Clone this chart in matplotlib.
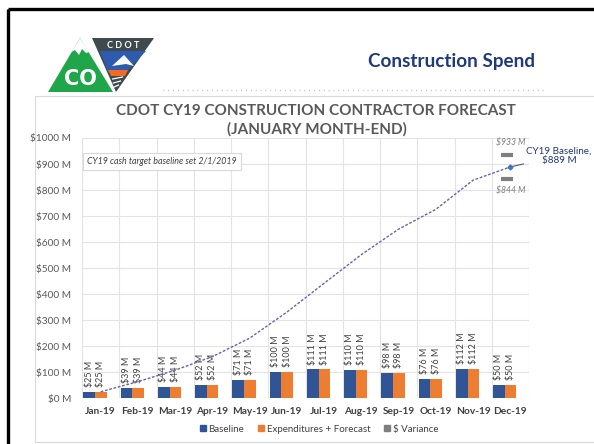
import numpy as np
import matplotlib
matplotlib.use("Agg")
import matplotlib.pyplot as plt
from matplotlib.patches import Polygon, Rectangle
from matplotlib.lines import Line2D

plt.rcParams['font.family'] = ['Lato', 'DejaVu Sans']

# data
months = ['Jan-19', 'Feb-19', 'Mar-19', 'Apr-19', 'May-19', 'Jun-19',
          'Jul-19', 'Aug-19', 'Sep-19', 'Oct-19', 'Nov-19', 'Dec-19']
baseline = [25, 39, 44, 52, 71, 100, 111, 110, 98, 76, 112, 50]
expend = [25, 39, 44, 52, 71, 100, 111, 110, 98, 76, 112, 50]
cum_baseline = [25, 64, 108, 160, 231, 331, 442, 552, 650, 726, 838, 889]
var_hi = 933
var_lo = 844
yticks = [0, 100, 200, 300, 400, 500, 600, 700, 800, 900, 1000]

BLUE = '#2F5597'
ORANGE = '#ED7D31'
GRAY = '#7F7F7F'
NAVY = '#1F3A7A'
TXT = '#404040'

W, H = 594, 444
fig = plt.figure(figsize=(W / 100, H / 100), dpi=100)

# background layer in pixel coords
bg = fig.add_axes([0, 0, 1, 1], zorder=0)
bg.set_xlim(0, W)
bg.set_ylim(H, 0)
bg.axis('off')

# slide border
bg.plot([7.5, W], [9, 9], color='black', lw=2.4, solid_capstyle='butt')
bg.plot([7.5, 7.5], [9, H], color='black', lw=2.4, solid_capstyle='butt')

# logo
bg.add_patch(Polygon([(48, 92), (113, 92), (80, 38)], closed=True, fc='#1FA64A', ec='none'))
bg.add_patch(Polygon([(80, 38), (71.5, 52), (75, 50), (79, 55), (82, 49), (86, 53), (89, 52)],
                     closed=True, fc='white', ec='none'))
bg.text(80, 79, 'CO', color='white', fontsize=15, fontweight='heavy', ha='center', va='center',
        family=['DejaVu Sans'])
bg.add_patch(Polygon([(92, 38), (154, 38), (116, 92)], closed=True, fc='#3E4A4E', ec='none'))
bg.add_patch(Polygon([(100, 51), (146, 51), (126, 72), (108, 72)], closed=True, fc='#2D5CAE', ec='none'))
bg.add_patch(Polygon([(112, 66), (124, 55), (134, 66), (126, 64)], closed=True, fc='white', ec='none'))
bg.add_patch(Polygon([(108, 70), (128, 70), (125, 76), (111, 76)], closed=True, fc='#F26B21', ec='none'))
for yy in [79, 83, 87]:
    bg.plot([112 + (yy - 76) * 0.2, 124 - (yy - 76) * 0.5], [yy, yy - 2], color='white', lw=0.9)
bg.text(123, 45, 'C D O T', color='white', fontsize=6.5, fontweight='bold', ha='center', va='center')

# header
bg.text(452, 61, 'Construction Spend', color=NAVY, fontsize=13.6, fontweight='bold',
        ha='center', va='center')
bg.plot([163, 547], [90.5, 90.5], color='#A6A6A6', lw=1, ls=(0, (0.5, 3)))

# chart panel
bg.add_patch(Rectangle((35, 96), 600, 346, fc='white', ec='#D9D9D9', lw=0.8))
bg.text(316, 111, 'CDOT CY19 CONSTRUCTION CONTRACTOR FORECAST', color='#595959',
        fontsize=11, fontweight='bold', ha='center', va='center')
bg.text(317, 129.5, '(JANUARY MONTH-END)', color='#595959',
        fontsize=11, fontweight='bold', ha='center', va='center')

# main plot
ax = fig.add_axes([82 / W, 1 - 398.3 / H, 447 / W, 260.3 / H], zorder=1)
ax.patch.set_alpha(0)
x = np.arange(len(months))
w = 0.314
off = -0.15
b1 = ax.bar(x + off - w / 2, baseline, w, color=BLUE, zorder=3)
b2 = ax.bar(x + off + w / 2, expend, w, color=ORANGE, zorder=3)
for bars, vals in [(b1, baseline), (b2, expend)]:
    for r, v in zip(bars, vals):
        ax.annotate(f'${v} M', (r.get_x() + r.get_width() / 2, v), xytext=(0, 3.5),
                    textcoords='offset points', rotation=90, ha='center', va='bottom',
                    fontsize=6.5, color=TXT)

ax.plot(x, cum_baseline, color='#6466AE', lw=1, ls=(0, (2, 1.2)), zorder=4)
ax.plot([x[-1]], [cum_baseline[-1]], marker='D', ms=2.5, color='#4472C4', zorder=5)
ax.plot([x[-1] - 0.08], [var_hi], marker='_', ms=9, mew=3, color=GRAY, zorder=5)
ax.plot([x[-1] - 0.08], [var_lo], marker='_', ms=9, mew=3, color=GRAY, zorder=5)
ax.annotate(f'${var_hi} M', (x[-1], var_hi), xytext=(0, 6), textcoords='offset points',
            ha='center', va='bottom', fontsize=6.2, style='italic', color=GRAY)
ax.annotate(f'${var_lo} M', (x[-1], var_lo), xytext=(0, -5), textcoords='offset points',
            ha='center', va='top', fontsize=6.2, style='italic', color=GRAY)
ax.annotate(f'CY19 Baseline,\n${cum_baseline[-1]} M', (x[-1], cum_baseline[-1]),
            xytext=(559 / W, 1 - 156 / H), textcoords='figure fraction',
            ha='center', va='center', fontsize=7.1, color=NAVY, linespacing=1.05,
            arrowprops=dict(arrowstyle='-', color='#595959', lw=0.8,
                            shrinkA=16, shrinkB=0), annotation_clip=False)

ax.text(0.012, 0.908, 'CY19 cash target baseline set 2/1/2019', transform=ax.transAxes,
        fontsize=6.4, style='italic', color=TXT, ha='left', va='center', zorder=6,
        bbox=dict(boxstyle='square,pad=0.45', fc='white', ec='#D9D9D9', lw=0.8))

ax.set_xlim(-0.5, len(months) - 0.5)
ax.set_ylim(0, 1000)
ax.set_yticks(yticks)
ax.set_yticklabels([f'${v} M' for v in yticks])
ax.set_xticks(x)
ax.set_xticklabels(months, fontweight='bold')
ax.set_xticks(np.arange(-0.5, len(months)), minor=True)
ax.grid(True, axis='y', color='#E3E3E3', lw=0.8, zorder=0)
ax.grid(True, axis='x', which='minor', color='#E3E3E3', lw=0.8, zorder=0)
ax.tick_params(axis='both', which='both', length=0, labelsize=7.3, colors='#595959')
ax.tick_params(axis='y', pad=8)
ax.tick_params(axis='x', pad=6)
for t in ax.get_xticklabels():
    t.set_color(TXT)
for s in ax.spines.values():
    s.set_visible(False)

handles = [Line2D([], [], ls='none', marker='s', ms=4.5, color=c) for c in (BLUE, ORANGE, GRAY)]
fig.legend(handles, ['Baseline', 'Expenditures + Forecast', '$ Variance'], ncol=3,
           loc='center', bbox_to_anchor=(318 / W, 1 - 429 / H), frameon=False,
           fontsize=7, labelcolor=TXT, handletextpad=0.1, columnspacing=1.2, handlelength=1)

fig.savefig('out.png', dpi=100)
